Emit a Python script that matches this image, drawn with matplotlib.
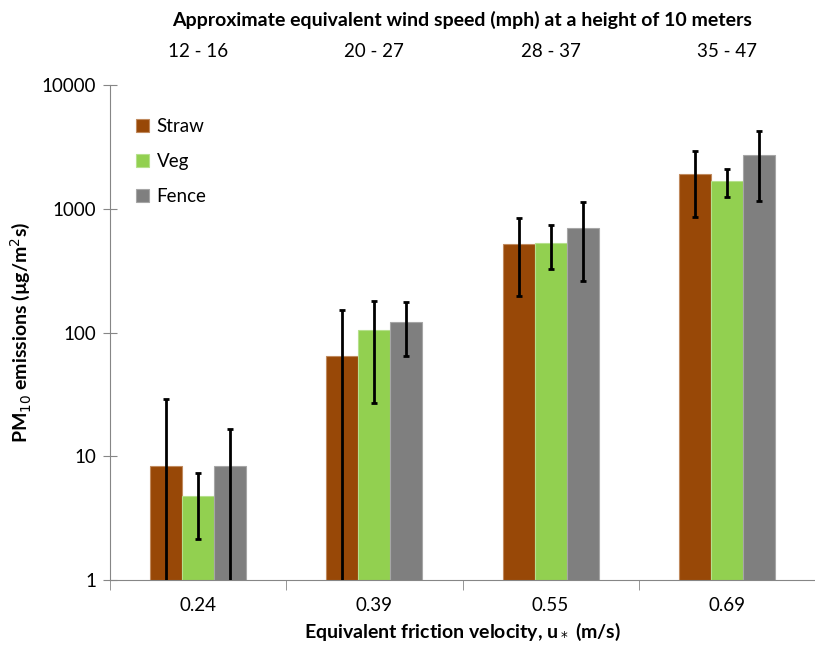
import matplotlib.pyplot as plt
import numpy as np

plt.rcParams['font.family'] = ['Lato', 'DejaVu Sans']

# groups: friction velocity and matching wind speed at 10 m
u_star = ["0.24", "0.39", "0.55", "0.69"]
wind_mph = ["12 - 16", "20 - 27", "28 - 37", "35 - 47"]

series = ["Straw", "Veg", "Fence"]
colors = ["#984807", "#92D050", "#7F7F7F"]
edges = ["#C08A5E", "#B6E08C", "#A6A6A6"]

# PM10 mean and standard deviation (ug/m2s)
straw = [8.4, 65, 520, 1900]
straw_sd = [20.8, 87, 321, 1050]
veg = [4.76, 104, 529, 1680]
veg_sd = [2.6, 77, 205, 430]
fence = [8.4, 121, 700, 2710]
fence_sd = [8.3, 57, 440, 1550]

means = [straw, veg, fence]
sds = [straw_sd, veg_sd, fence_sd]

fs = 13.5

fig = plt.figure(figsize=(8.15, 6.53), dpi=100)
ax = fig.add_axes([110 / 815, 73 / 653, 705 / 815, 495 / 653])

x = np.arange(len(u_star))
w = 0.182
for i, name in enumerate(series):
    pos = x + (i - 1) * w
    ax.bar(pos, means[i], width=w, color=colors[i], edgecolor=edges[i],
           linewidth=0.8, label=name, zorder=2)
    ax.errorbar(pos, means[i], yerr=sds[i], fmt='none', ecolor='black',
                elinewidth=2, capsize=2.5, capthick=2, zorder=3)

ax.set_yscale('log')
ax.set_ylim(1, 10000)
ax.set_xlim(-0.5, 3.45)
ax.set_yticks([1, 10, 100, 1000, 10000])
ax.set_yticklabels(["1", "10", "100", "1000", "10000"])
ax.yaxis.set_minor_locator(plt.NullLocator())
ax.tick_params(axis='y', direction='inout', length=10, color='#868686',
               labelsize=fs, pad=5)

# category labels centred, tick marks between groups
ax.set_xticks(x)
ax.set_xticklabels(u_star, fontsize=fs)
ax.tick_params(axis='x', length=0, pad=12)
ax.set_xticks(np.arange(-0.5, 4, 1), minor=True)
ax.tick_params(axis='x', which='minor', direction='out', length=7,
               color='#868686')

for s in ['top', 'right']:
    ax.spines[s].set_visible(False)
for s in ['left', 'bottom']:
    ax.spines[s].set_color('#868686')

ax.set_xlabel("Equivalent friction velocity, u$_*$ (m/s)", fontsize=14,
              fontweight='bold', labelpad=5)
ax.set_ylabel("PM$_{10}$ emissions (\u00b5g/m$^2$s)", fontsize=14,
              fontweight='bold', labelpad=6)

# wind speed scale along the top
top = ax.twiny()
top.set_xlim(ax.get_xlim())
top.set_xticks(x)
top.set_xticklabels(wind_mph, fontsize=fs)
top.tick_params(axis='x', length=0, pad=18)
for s in top.spines.values():
    s.set_visible(False)
top.set_xlabel("Approximate equivalent wind speed (mph) at a height of 10 meters",
               fontsize=14, fontweight='bold', labelpad=12)

ax.legend(loc='upper left', bbox_to_anchor=(0.013, 0.968), frameon=False,
          fontsize=fs, handlelength=0.7, handleheight=0.7,
          labelspacing=0.97, handletextpad=0.4)

fig.savefig("out.png", dpi=100)
